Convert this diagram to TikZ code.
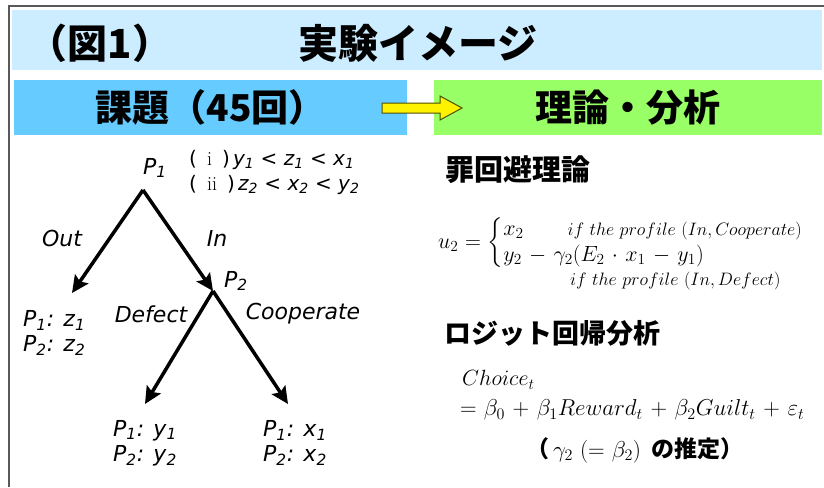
\RequirePackage{fix-cm}
\documentclass[tikz,border=0pt]{standalone}
\usepackage{amsmath}
\usepackage{fontspec}
\newfontfamily\jpfont{Noto Sans CJK JP}
\newfontfamily\treefont{DejaVu Sans}
\usetikzlibrary {arrows.meta,
                 positioning}
\definecolor{titleblue}{HTML}{CCECFF}
\definecolor{taskblue}{HTML}{66CCFF}
\definecolor{theorygreen}{HTML}{99FF66}
\definecolor{arrowedge}{HTML}{4D4D00}
\newcommand{\ifprofile}[1]{\text{\fontsize{18}{18}\selectfont $if\ the\ profile\ (#1)$}}
\newcommand{\mathspread}{\medmuskip=6mu\relax\thickmuskip=5.5mu\relax}
\tikzset{
        band/.style={rectangle, fill=#1, inner sep=0pt},
        jhead/.style={font=\jpfont\bfseries\fontsize{#1}{#1}\selectfont},
        tree/.style={font=\treefont\itshape\fontsize{22}{25}\selectfont},
        payoff/.style={tree, align=left, anchor=west, inner sep=0pt},
        branch/.style={-{Stealth[length=17pt, width=16pt, inset=3pt]},
                       line width=3.5pt},
        formula/.style={anchor=west, inner sep=0pt,
                        font=\fontsize{#1}{#1}\selectfont\mathspread},
}

\begin{document}
\begin{tikzpicture}[x=1pt, y=-1pt]
    \useasboundingbox (0,0) rectangle (824,487);
    \draw[gray!70!black, line width=1.6pt] (9,487) -- (9,6) -- (824,6);

    % header bands
    \node[band=titleblue, minimum width=810pt, minimum height=60pt]
        (title) at (417,40) {};
    \node[jhead=40] (fignum) at (100,43) {（図1）};
    \node[jhead=40] (titletext) at (418,43) {実験イメージ};

    \node[band=taskblue, minimum width=393pt, minimum height=55pt, jhead=37]
        (task) at (210.5,107.5) {課題（45回）};
    \node[band=theorygreen, minimum width=388pt, minimum height=55pt, jhead=37]
        (theory) at (628,107.5) {理論・分析};
    % block arrow
    \filldraw[fill=yellow, draw=arrowedge, line width=1pt]
        (382,103) -- (440,103) -- (440,96) -- (462,108)
        -- (440,120) -- (440,113) -- (382,113) -- cycle;

    % game tree
    \coordinate (root) at (143,190);
    \coordinate (split) at (213,291);
    \coordinate (outtip) at (72,293);
    \coordinate (deftip) at (145,404);
    \coordinate (cooptip) at (288,404);

    \node[tree] (p1) at (155,168) {P\textsubscript{1}};
    \node[tree] (p2) at (236,281) {P\textsubscript{2}};

    \draw[branch] (root) -- (outtip);
    \draw[branch] (root) -- (split);
    \draw[branch] (split) -- (deftip);
    \draw[branch] (split) -- (cooptip);

    \node[tree] (out) at (62,238) {Out};
    \node[tree] (in) at (217,238) {In};
    \node[tree] (defect) at (151,314) {Defect};
    \node[tree] (coop) at (303,314) {Cooperate};

    \node[payoff] (payout) at (23,333)
        {P\textsubscript{1}: z\textsubscript{1}\\ P\textsubscript{2}: z\textsubscript{2}};
    \node[payoff] (paydef) at (113,443)
        {P\textsubscript{1}: y\textsubscript{1}\\ P\textsubscript{2}: y\textsubscript{2}};
    \node[payoff] (paycoop) at (263,443)
        {P\textsubscript{1}: x\textsubscript{1}\\ P\textsubscript{2}: x\textsubscript{2}};

    \node[payoff, font=\treefont\itshape\fontsize{20}{25}\selectfont] (cond) at (189,172)
        {{\upshape(\enspace\textrm{i}\enspace)}\,y\textsubscript{1} < z\textsubscript{1} < x\textsubscript{1}\\
         {\upshape(\enspace\textrm{ii}\enspace)}\,z\textsubscript{2} < x\textsubscript{2} < y\textsubscript{2}};

    % theory side
    \node[jhead=29, anchor=west] (guilt) at (442,170) {罪回避理論};
    \node[formula=22] (utility) at (438,243)
        {$u_2=\begin{cases}
            x_2\hspace{44pt}\ifprofile{In,Cooperate}\\
            y_2-\gamma_2(E_2\cdot x_1-y_1)
          \end{cases}$};
    \node[formula=22] (defcase) at (570,281) {$\ifprofile{In,Defect}$};

    \node[jhead=27, anchor=west] (logit) at (441,333) {ロジット回帰分析};
    \node[formula=22] (choice) at (462,380) {$Choice_t$};
    \node[formula=23] (regress) at (460,410)
        {$=\beta_0+\beta_1Reward_t+\beta_2Guilt_t+\varepsilon_t$};
    \node[font=\fontsize{23}{23}\selectfont\mathspread] (estimate) at (635,450)
        {{\jpfont\bfseries （}\,$\gamma_2\;(=\beta_2)$\, {\jpfont\bfseries の推定）}};
\end{tikzpicture}
\end{document}
